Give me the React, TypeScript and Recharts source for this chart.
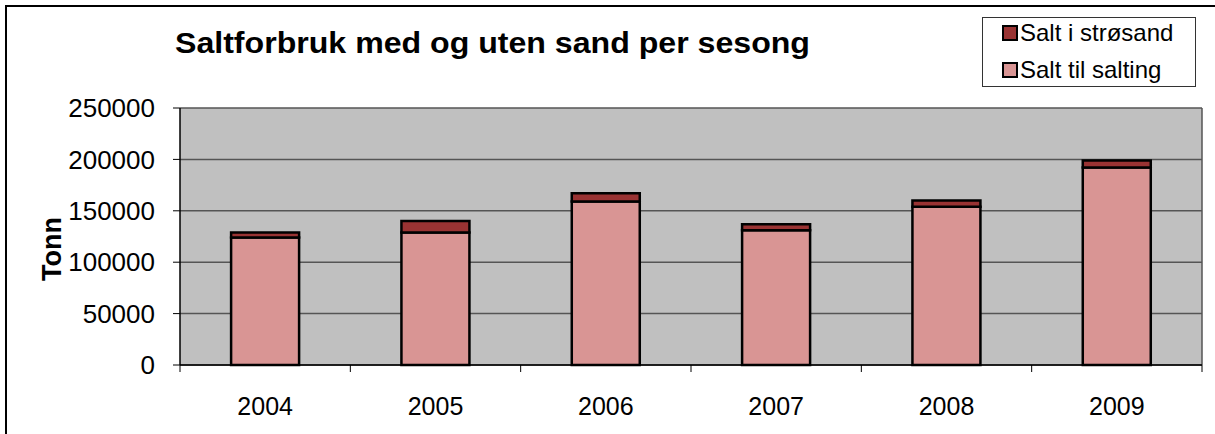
import React from 'react';
import { BarChart, Bar, XAxis, YAxis, CartesianGrid } from 'recharts';

// sesonger og tonn salt (lest av figuren)
const years = ['2004', '2005', '2006', '2007', '2008', '2009'];
const saltSalting = [124000, 129000, 159000, 131000, 154000, 192000];
const saltStrosand = [5000, 11000, 8000, 6000, 6000, 7000];
const yTicks = [0, 50000, 100000, 150000, 200000, 250000];

const seriesNames = ['Salt i strøsand', 'Salt til salting'];
const colors = ['#993333', '#D99594'];

const W = 1215;
const H = 434;
const margin = { top: 108, right: 13, bottom: 0, left: 0 };
const yAxisWidth = 180;
const xAxisHeight = 69;
const band = (W - yAxisWidth - margin.right) / years.length;

const data = years.map((year, i) => ({
  year,
  salting: saltSalting[i],
  strosand: saltStrosand[i]
}));

const font = '"Liberation Sans", Arial, sans-serif';

const XTick = (props: any) => {
  const { x, y, payload, index } = props;
  const left = x - band / 2;
  return <g>
      <line x1={left} y1={y - 8} x2={left} y2={y - 1} stroke="#000" strokeWidth={1} />
      {index === years.length - 1 && <line x1={x + band / 2} y1={y - 8} x2={x + band / 2} y2={y - 1} stroke="#000" strokeWidth={1} />}
      <text x={x} y={y + 42} textAnchor="middle" fontSize={25} fontFamily={font} fill="#000">
        {payload.value}
      </text>
    </g>;
};

const Legend = () => <div style={{
  position: 'absolute',
  left: 982,
  top: 17,
  width: 212,
  height: 68,
  border: '1px solid #333',
  background: '#fff',
  fontFamily: font,
  fontSize: 24
}}>
    {seriesNames.map((name, i) => <div key={name} style={{
    position: 'absolute',
    left: 19,
    top: 1 + i * 37,
    height: 28,
    display: 'flex',
    alignItems: 'center',
    whiteSpace: 'nowrap'
  }}>
        <span style={{
      display: 'inline-block',
      width: 12,
      height: 12,
      background: colors[i],
      border: '2px solid #000',
      marginRight: 2
    }} />
        <span>{name}</span>
      </div>)}
  </div>;

export default function App() {
  return <div style={{
    position: 'absolute',
    left: 0,
    top: 0,
    width: W,
    height: H,
    overflow: 'hidden',
    background: '#fff'
  }}>
      <div style={{
      position: 'absolute',
      left: 5,
      top: 5,
      width: 1240,
      height: 440,
      border: '2px solid #000'
    }} />
      <div style={{
      position: 'absolute',
      left: 175,
      top: 26,
      fontFamily: font,
      fontWeight: 'bold',
      fontSize: 30,
      lineHeight: '34px',
      whiteSpace: 'nowrap',
      transform: 'scaleX(1.07)',
      transformOrigin: '0 0'
    }}>
        Saltforbruk med og uten sand per sesong
      </div>
      <div style={{ position: 'absolute', left: 0, top: 0 }}>
        <BarChart width={W} height={H} data={data} margin={margin} barCategoryGap="30%">
          <CartesianGrid fill="#C0C0C0" stroke="#555" strokeWidth={1.5} vertical={true} verticalCoordinatesGenerator={({ offset }: any) => [offset.left + offset.width]} horizontalValues={yTicks} />
          <XAxis dataKey="year" height={xAxisHeight} axisLine={{ stroke: '#000', strokeWidth: 1.5 }} tickLine={false} tick={<XTick />} interval={0} />
          <YAxis width={yAxisWidth} domain={[0, 250000]} ticks={yTicks} interval={0} axisLine={{ stroke: '#000', strokeWidth: 1.5 }} tickLine={{ stroke: '#000' }} tickSize={7} tickMargin={18} tick={{ fill: '#000', fontSize: 26, fontFamily: font }} label={{
          content: () => <text x={61} y={249} transform="rotate(-90 61 249)" textAnchor="middle" fontSize={27} fontWeight="bold" fontFamily={font} fill="#000">Tonn</text>
        }} />
          <Bar dataKey="salting" stackId="a" fill={colors[1]} stroke="#000" strokeWidth={2.5} isAnimationActive={false} />
          <Bar dataKey="strosand" stackId="a" fill={colors[0]} stroke="#000" strokeWidth={2.5} isAnimationActive={false} />
        </BarChart>
      </div>
      <Legend />
    </div>;
}
